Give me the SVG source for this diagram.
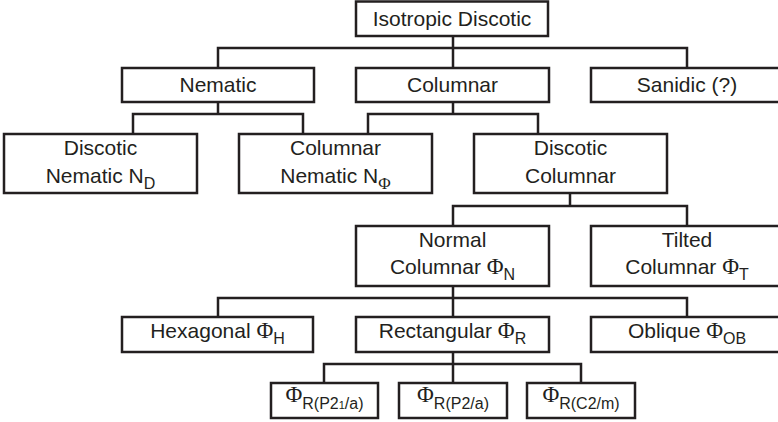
<svg xmlns="http://www.w3.org/2000/svg" width="778" height="422" viewBox="0 0 778 422">
<style>
rect{fill:#fff;stroke:#231f20;stroke-width:2.5}
.c path{fill:none;stroke:#231f20;stroke-width:2.5}
text{font-family:"Liberation Sans",Arial,sans-serif;font-size:21px;fill:#231f20;text-anchor:middle}
.p{font-family:"Liberation Serif","Times New Roman",serif;font-size:23px}
.s{font-size:16px}
.sp{font-family:"Liberation Serif","Times New Roman",serif;font-size:17px}
</style>
<rect x="0" y="0" width="778" height="422" style="fill:#fff;stroke:none"/>
<g class="c" id="connectors">
<path d="M453 36V48M218 68V48H687V68M453 48V68"/>
<path d="M218 102V114M133 134V114H303V134"/>
<path d="M453 102V114M368 134V114H538V134"/>
<path d="M570 193V206M453 226V206H687V226"/>
<path d="M453 286V298M218 317V298H687V317M453 298V317"/>
<path d="M453 352V364M324 383V364H581V383M453 364V383"/>
</g>
<g id="n-isotropic"><rect x="356" y="1.5" width="192" height="34.5"/><text x="452" y="26">Isotropic Discotic</text></g>
<g id="n-nematic"><rect x="122" y="68" width="192" height="34"/><text x="218" y="92">Nematic</text></g>
<g id="n-columnar"><rect x="356" y="68" width="193" height="34"/><text x="452.5" y="92">Columnar</text></g>
<g id="n-sanidic"><rect x="591" y="68" width="194" height="34"/><text x="687" y="92">Sanidic (?)</text></g>
<g id="n-discotic-nematic"><rect x="4" y="134" width="193" height="59"/><text x="100.5" y="155">Discotic</text><text x="100.5" y="183">Nematic N<tspan class="s" dy="6">D</tspan></text></g>
<g id="n-columnar-nematic"><rect x="239" y="134" width="193" height="59"/><text x="335.5" y="155">Columnar</text><text x="335.5" y="183">Nematic N<tspan class="sp" dy="6">Φ</tspan></text></g>
<g id="n-discotic-columnar"><rect x="474" y="134" width="193" height="59"/><text x="570.5" y="155">Discotic</text><text x="570.5" y="183">Columnar</text></g>
<g id="n-normal"><rect x="356" y="226" width="193" height="60"/><text x="452.5" y="247">Normal</text><text x="452.5" y="274">Columnar <tspan class="p">Φ</tspan><tspan class="s" dy="6">N</tspan></text></g>
<g id="n-tilted"><rect x="591" y="226" width="194" height="60"/><text x="687" y="247">Tilted</text><text x="687" y="274">Columnar <tspan class="p">Φ</tspan><tspan class="s" dy="6">T</tspan></text></g>
<g id="n-hexagonal"><rect x="122" y="317" width="191" height="35"/><text x="217.5" y="338">Hexagonal <tspan class="p">Φ</tspan><tspan class="s" dy="6">H</tspan></text></g>
<g id="n-rectangular"><rect x="356" y="317" width="193" height="35"/><text x="452.5" y="338">Rectangular <tspan class="p">Φ</tspan><tspan class="s" dy="6">R</tspan></text></g>
<g id="n-oblique"><rect x="591" y="317" width="194" height="35"/><text x="687" y="338">Oblique <tspan class="p">Φ</tspan><tspan class="s" dy="6">OB</tspan></text></g>
<g id="n-p21a"><rect x="271" y="383" width="107" height="35"/><text x="324.5" y="402"><tspan class="p">Φ</tspan><tspan class="s" dy="7">R(P2<tspan font-size="11px">1</tspan>/a)</tspan></text></g>
<g id="n-p2a"><rect x="399" y="383" width="108" height="35"/><text x="453" y="402"><tspan class="p">Φ</tspan><tspan class="s" dy="7">R(P2/a)</tspan></text></g>
<g id="n-c2m"><rect x="527" y="383" width="108" height="35"/><text x="581" y="402"><tspan class="p">Φ</tspan><tspan class="s" dy="7">R(C2/m)</tspan></text></g>
</svg>
